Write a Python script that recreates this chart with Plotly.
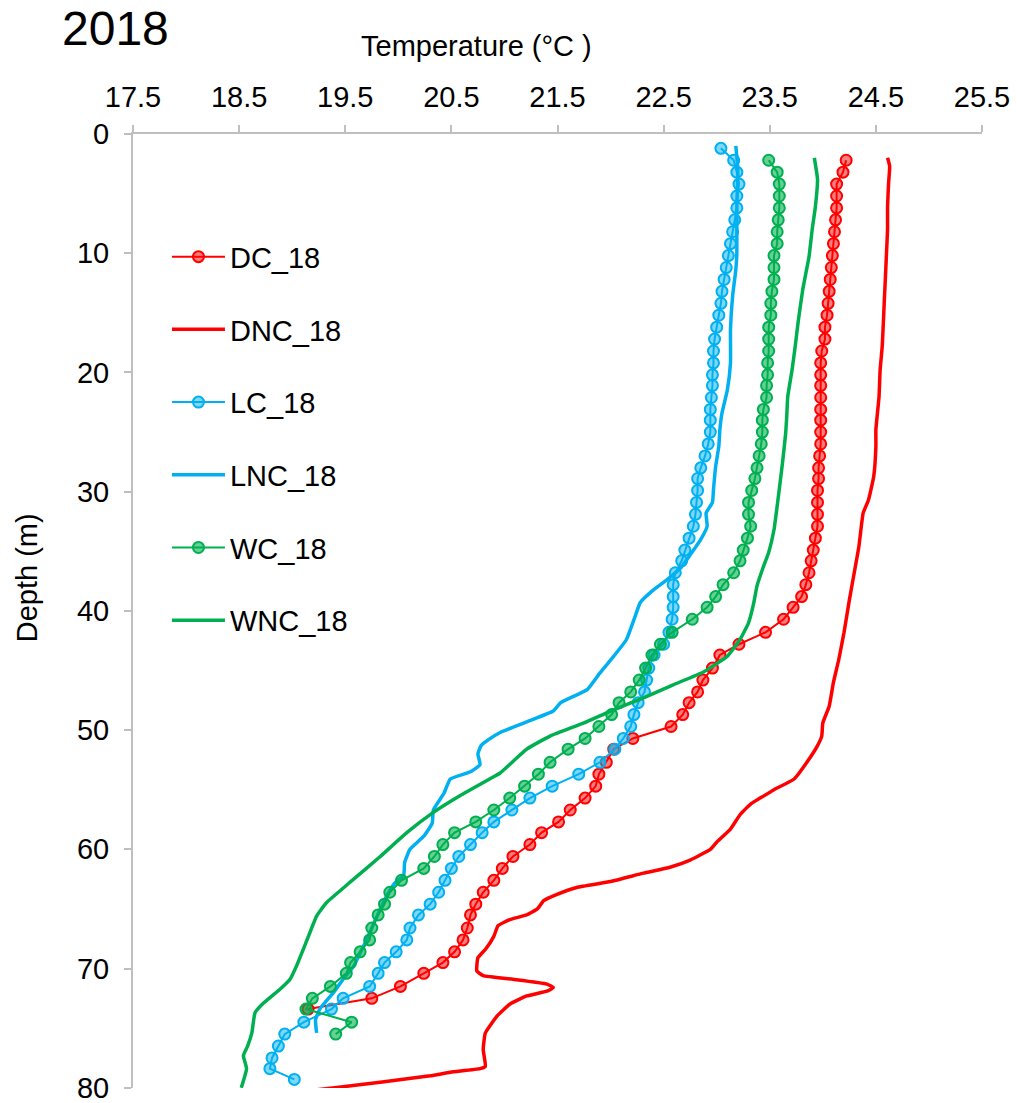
import plotly.graph_objects as go

# ---- temperature profiles (depth in m, temperature in deg C) ----
dc_depth = [2.2, 3.2, 4.2, 5.2, 6.2, 7.2, 8.2, 9.2, 10.2, 11.2, 12.2, 13.2, 14.2, 15.2, 16.2, 17.2,
            18.2, 19.2, 20.2, 21.1, 22.1, 23.1, 24.0, 25.0, 26.0, 27.0, 28.0, 28.9, 29.9, 30.9, 31.9,
            32.9, 33.9, 34.9, 35.8, 36.8, 37.8, 38.8, 39.7, 40.7, 41.8, 42.8, 43.7, 44.8, 45.8, 46.8,
            47.7, 48.7, 49.7, 50.7, 51.6, 52.7, 53.7, 54.7, 55.7, 56.7, 57.7, 58.6, 59.6, 60.6, 61.6,
            62.6, 63.6, 64.6, 65.5, 66.6, 67.6, 68.6, 69.5, 70.4, 71.5, 72.5, 73.4]
dc_temp = [24.22, 24.19, 24.13, 24.13, 24.13, 24.12, 24.11, 24.10, 24.09, 24.08, 24.07, 24.06, 24.05,
           24.04, 24.02, 24.02, 23.99, 23.98, 23.98, 23.98, 23.98, 23.98, 23.98, 23.98, 23.98, 23.97,
           23.96, 23.96, 23.95, 23.95, 23.95, 23.95, 23.93, 23.91, 23.89, 23.87, 23.84, 23.80, 23.72,
           23.63, 23.46, 23.21, 23.03, 22.96, 22.87, 22.82, 22.74, 22.68, 22.57, 22.21, 22.03, 21.96,
           21.89, 21.86, 21.76, 21.62, 21.51, 21.35, 21.24, 21.08, 20.98, 20.90, 20.80, 20.73, 20.68,
           20.65, 20.61, 20.53, 20.42, 20.24, 20.02, 19.75, 19.15]

dnc_depth = [2.0, 2.7, 4.1, 6.1, 8.0, 10.0, 12.0, 13.9, 15.9, 17.8, 19.8, 22.0, 24.8, 26.2, 28.7,
             30.7, 31.8, 34.6, 37.1, 39.1, 41.8, 44.1, 46.0, 48.0, 49.4, 50.5, 51.3, 52.7, 54.1, 55.0,
             55.7, 56.2, 57.1, 58.3, 59.4, 60.0, 60.9, 61.5, 62.0, 62.7, 63.2, 63.8, 64.3, 65.0, 65.5,
             65.9, 66.4, 67.3, 68.4, 69.1, 70.2, 70.6, 70.9, 71.3, 71.6, 71.9, 72.3, 73.0, 74.0, 75.4,
             76.8, 78.2, 78.4, 78.7, 79.0, 80.0, 80.4]
dnc_temp = [24.61, 24.63, 24.62, 24.61, 24.61, 24.60, 24.59, 24.58, 24.57, 24.56, 24.54, 24.53, 24.50,
            24.50, 24.48, 24.43, 24.38, 24.34, 24.29, 24.25, 24.20, 24.15, 24.10, 24.06, 24.00, 23.99,
            23.95, 23.85, 23.73, 23.54, 23.41, 23.32, 23.22, 23.13, 23.00, 22.94, 22.75, 22.56, 22.31,
            22.00, 21.68, 21.49, 21.37, 21.31, 21.21, 21.05, 20.94, 20.90, 20.82, 20.75, 20.74, 20.80,
            21.08, 21.40, 21.46, 21.40, 21.21, 21.05, 20.93, 20.82, 20.80, 20.82, 20.77, 20.49, 20.30,
            19.40, 19.00]

lc_depth = [1.2, 2.2, 3.2, 4.2, 5.2, 6.2, 7.2, 8.2, 9.2, 10.2, 11.2, 12.2, 13.2, 14.2, 15.2, 16.2,
            17.2, 18.2, 19.2, 20.2, 21.1, 22.1, 23.1, 24.0, 25.0, 26.0, 27.0, 28.0, 28.9, 29.9, 30.9,
            31.9, 32.9, 33.9, 34.9, 35.8, 36.8, 37.8, 38.8, 39.7, 40.7, 41.8, 42.8, 43.7, 44.8, 45.8,
            46.8, 47.7, 48.7, 49.7, 50.7, 51.6, 52.7, 53.7, 54.7, 55.7, 56.7, 57.7, 58.6, 59.6, 60.6,
            61.6, 62.6, 63.6, 64.6, 65.5, 66.6, 67.6, 68.6, 69.5, 70.4, 71.5, 72.5, 73.4, 74.5, 75.5,
            76.5, 77.5, 78.4, 79.3]
lc_temp = [23.04, 23.16, 23.19, 23.21, 23.19, 23.19, 23.17, 23.15, 23.13, 23.11, 23.09, 23.07, 23.05,
           23.04, 23.02, 23.00, 22.98, 22.97, 22.97, 22.96, 22.96, 22.95, 22.94, 22.94, 22.94, 22.92,
           22.89, 22.85, 22.82, 22.82, 22.81, 22.80, 22.78, 22.74, 22.70, 22.67, 22.61, 22.59, 22.59,
           22.59, 22.58, 22.55, 22.50, 22.41, 22.36, 22.34, 22.32, 22.26, 22.22, 22.19, 22.12, 22.04,
           21.90, 21.70, 21.45, 21.24, 21.07, 20.90, 20.79, 20.68, 20.57, 20.50, 20.44, 20.38, 20.30,
           20.19, 20.11, 20.08, 19.98, 19.87, 19.81, 19.73, 19.48, 19.37, 19.11, 18.93, 18.87, 18.81,
           18.79, 19.02]

lnc_depth = [1.0, 3.0, 6.0, 10.0, 11.4, 13.6, 16.4, 19.2, 21.5, 23.4, 24.8, 26.2, 27.9, 29.8, 30.9,
             31.8, 32.9, 34.0, 35.3, 36.4, 37.4, 38.2, 39.3, 40.5, 42.4, 43.8, 45.2, 46.6, 47.7, 48.4,
             49.1, 50.2, 50.8, 51.3, 52.0, 52.9, 53.5, 54.1, 55.3, 56.7, 57.8, 58.9, 60.0, 61.1, 62.2,
             62.8, 63.6, 65.0, 66.4, 67.6, 68.7, 69.8, 70.9, 72.0, 73.4, 74.3, 75.4]
lnc_temp = [23.18, 23.20, 23.19, 23.19, 23.18, 23.15, 23.13, 23.13, 23.10, 23.05, 23.03, 23.02, 22.99,
            22.97, 22.96, 22.90, 22.91, 22.85, 22.75, 22.66, 22.53, 22.41, 22.28, 22.23, 22.15, 22.03,
            21.90, 21.78, 21.53, 21.46, 21.27, 20.96, 20.85, 20.78, 20.75, 20.77, 20.68, 20.49, 20.43,
            20.33, 20.32, 20.24, 20.11, 20.06, 20.05, 19.97, 19.91, 19.83, 19.76, 19.70, 19.64, 19.58,
            19.48, 19.39, 19.26, 19.22, 19.23]

wc_depth = [2.2, 3.2, 4.2, 5.2, 6.2, 7.2, 8.2, 9.2, 10.2, 11.2, 12.2, 13.2, 14.2, 15.2, 16.2, 17.2,
            18.2, 19.2, 20.2, 21.1, 22.1, 23.1, 24.0, 25.0, 26.0, 27.0, 28.0, 28.9, 29.9, 30.9, 31.9,
            32.9, 33.9, 34.9, 35.8, 36.8, 37.8, 38.8, 39.7, 40.7, 41.8, 42.8, 43.7, 44.8, 45.8, 46.8,
            47.7, 48.7, 49.7, 50.7, 51.6, 52.7, 53.7, 54.7, 55.7, 56.7, 57.7, 58.6, 59.6, 60.6, 61.6,
            62.6, 63.6, 64.6, 65.5, 66.6, 67.6, 68.6, 69.5, 70.4, 71.5, 72.5, 73.4, 74.5, 75.5]
wc_temp = [23.49, 23.57, 23.59, 23.59, 23.59, 23.58, 23.57, 23.57, 23.54, 23.54, 23.54, 23.52, 23.51,
           23.51, 23.49, 23.49, 23.49, 23.48, 23.48, 23.47, 23.47, 23.44, 23.43, 23.43, 23.42, 23.40,
           23.38, 23.36, 23.33, 23.30, 23.30, 23.32, 23.29, 23.25, 23.22, 23.16, 23.06, 22.99, 22.91,
           22.77, 22.58, 22.47, 22.39, 22.33, 22.27, 22.19, 22.08, 22.01, 21.89, 21.76, 21.60, 21.43,
           21.32, 21.19, 21.05, 20.90, 20.73, 20.53, 20.42, 20.34, 20.24, 20.03, 19.92, 19.87, 19.81,
           19.75, 19.73, 19.64, 19.55, 19.51, 19.36, 19.19, 19.13, 19.56, 19.41]

wnc_depth = [2.0, 3.8, 6.1, 8.0, 10.3, 11.7, 13.1, 15.6, 17.8, 19.8, 22.0, 23.7, 25.1, 27.6, 31.2,
             33.2, 35.1, 36.3, 37.9, 39.3, 41.0, 42.4, 43.8, 45.1, 46.2, 47.3, 48.4, 49.4, 50.5, 51.6,
             53.6, 54.1, 55.5, 56.9, 58.6, 60.6, 62.8, 64.5, 65.6, 67.6, 69.8, 70.9, 71.7, 72.9, 73.7,
             75.4, 76.5, 77.3, 78.4, 80.0]
wnc_temp = [23.92, 23.95, 23.93, 23.90, 23.87, 23.84, 23.81, 23.77, 23.74, 23.71, 23.67, 23.66, 23.65,
            23.62, 23.57, 23.54, 23.49, 23.44, 23.38, 23.35, 23.30, 23.22, 23.10, 22.88, 22.59, 22.31,
            22.00, 21.75, 21.43, 21.21, 20.96, 20.86, 20.58, 20.33, 20.08, 19.83, 19.54, 19.32, 19.23,
            19.14, 19.04, 18.98, 18.89, 18.73, 18.65, 18.62, 18.58, 18.54, 18.57, 18.52]

temp_ticks = [17.5, 18.5, 19.5, 20.5, 21.5, 22.5, 23.5, 24.5, 25.5]
depth_ticks = [0, 10, 20, 30, 40, 50, 60, 70, 80]

RED = "#FF0000"
BLUE = "#00B0F0"
GREEN = "#00B050"
FONT = "Arial, 'Liberation Sans', sans-serif"
AXIS_GREY = "#BFBFBF"
FS = 29


def cast_trace(name, temp, depth, color, fill):
    return go.Scatter(
        x=temp, y=depth, name=name, mode="lines+markers", legendgroup=name,
        line=dict(color=color, width=2),
        marker=dict(symbol="circle", size=11, color=fill, line=dict(color=color, width=2)),
    )


def line_trace(name, temp, depth, color):
    return go.Scatter(
        x=temp, y=depth, name=name, mode="lines", legendgroup=name,
        line=dict(color=color, width=3.5, shape="spline", smoothing=0.4),
    )


fig = go.Figure()
fig.add_trace(cast_trace("DC_18", dc_temp, dc_depth, RED, "rgba(255,0,0,0.5)"))
fig.add_trace(line_trace("DNC_18", dnc_temp, dnc_depth, RED))
fig.add_trace(cast_trace("LC_18", lc_temp, lc_depth, BLUE, "rgba(0,176,240,0.5)"))
fig.add_trace(line_trace("LNC_18", lnc_temp, lnc_depth, BLUE))
fig.add_trace(cast_trace("WC_18", wc_temp, wc_depth, GREEN, "rgba(0,176,80,0.6)"))
fig.add_trace(line_trace("WNC_18", wnc_temp, wnc_depth, GREEN))

fig.update_layout(
    width=1017, height=1103,
    margin=dict(l=133, r=35, t=134, b=15, autoexpand=False),
    paper_bgcolor="white", plot_bgcolor="white",
    font=dict(family=FONT, size=FS, color="black"),
    showlegend=True,
    legend=dict(
        x=0.04, y=0.898, xanchor="left", yanchor="top",
        bgcolor="rgba(0,0,0,0)", font=dict(size=FS),
        traceorder="grouped", tracegroupgap=32, itemwidth=53,
    ),
    xaxis=dict(
        side="top", range=[17.5, 25.5], tickvals=temp_ticks,
        ticktext=[f"{v:.1f}" for v in temp_ticks],
        showline=True, linecolor=AXIS_GREY, linewidth=2,
        ticks="outside", ticklen=7, tickwidth=2, tickcolor=AXIS_GREY,
        showgrid=False, zeroline=False, tickfont=dict(size=FS),
        ticklabelstandoff=6, automargin=False,
    ),
    yaxis=dict(
        range=[80.02, 0], tickvals=depth_ticks,
        showline=True, linecolor=AXIS_GREY, linewidth=2,
        ticks="outside", ticklen=7, tickwidth=2, tickcolor=AXIS_GREY,
        showgrid=False, zeroline=False, tickfont=dict(size=FS),
        ticklabelstandoff=9, ticklabeloverflow="allow", automargin=False,
    ),
    annotations=[
        dict(text="2018", xref="paper", yref="paper", x=-0.086, y=1.111,
             xanchor="left", yanchor="middle", showarrow=False, font=dict(size=48)),
        dict(text="Temperature (°C )", xref="paper", yref="paper", x=0.405, y=1.092,
             xanchor="center", yanchor="middle", showarrow=False, font=dict(size=FS)),
        dict(text="Depth (m)", xref="paper", yref="paper", x=-0.1253, y=0.535,
             xanchor="center", yanchor="middle", textangle=-90, showarrow=False,
             font=dict(size=FS)),
    ],
)

fig.write_html("out.html")
